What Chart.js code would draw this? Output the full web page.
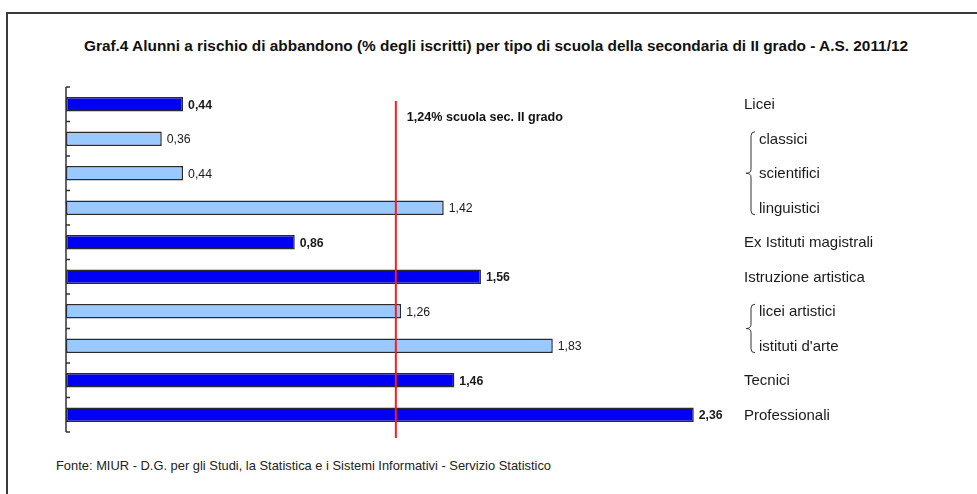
<!DOCTYPE html>
<html>
<head>
<meta charset="utf-8">
<script src="https://cdn.jsdelivr.net/npm/chart.js@4/dist/chart.umd.min.js"></script>
<style>
  html, body { margin: 0; padding: 0; background: #fff; }
  #wrap { position: relative; width: 977px; height: 494px; overflow: hidden; font-family: "Liberation Sans", Arial, sans-serif; }
  #frame { position: absolute; left: 6px; top: 12px; width: 1100px; height: 600px; border: 2px solid #3a3a3a; box-sizing: border-box; }
  #title { position: absolute; left: 0; width: 992px; top: 37px; text-align: center; font-weight: bold; font-size: 15.4px; color: #111; }
  #source { position: absolute; left: 56px; top: 458px; font-size: 12.9px; color: #222; }
  canvas { position: absolute; left: 0; top: 0; }
</style>
</head>
<body>
<div id="wrap">
  <div id="frame"></div>
  <div id="title">Graf.4 Alunni a rischio di abbandono (% degli iscritti) per tipo di scuola della secondaria di II grado - A.S. 2011/12</div>
  <div id="source">Fonte: MIUR - D.G. per gli Studi, la Statistica e i Sistemi Informativi - Servizio Statistico</div>
  <canvas id="c" width="977" height="494"></canvas>
</div>
<script>
const categories = ["Licei", "classici", "scientifici", "linguistici", "Ex Istituti magistrali", "Istruzione artistica", "licei artistici", "istituti d'arte", "Tecnici", "Professionali"];
const levels = [0, 1, 1, 1, 0, 0, 1, 1, 0, 0];
const values = [0.44, 0.36, 0.44, 1.42, 0.86, 1.56, 1.26, 1.83, 1.46, 2.36];
const referenceValue = 1.24;
const referenceLabel = "1,24% scuola sec. II grado";

const darkBlue = "#0000f4";
const lightBlue = "#99c9ff";

const decorPlugin = {
  id: "decor",
  afterDatasetsDraw(chart) {
    const ctx = chart.ctx;
    const x = chart.scales.x, y = chart.scales.y;
    const area = chart.chartArea;
    ctx.save();
    // axis line and ticks
    const step = y.getPixelForValue(1) - y.getPixelForValue(0);
    const top = y.getPixelForValue(0) - step / 2;
    const bottom = y.getPixelForValue(categories.length - 1) + step / 2;
    const x0 = x.getPixelForValue(0);
    ctx.strokeStyle = "#333";
    ctx.lineWidth = 1.5;
    ctx.beginPath();
    ctx.moveTo(x0, top);
    ctx.lineTo(x0, bottom);
    for (let i = 0; i <= categories.length; i++) {
      const ty = top + i * step;
      ctx.moveTo(x0, ty);
      ctx.lineTo(x0 + 4, ty);
    }
    ctx.stroke();

    // value labels
    const meta = chart.getDatasetMeta(0);
    ctx.textBaseline = "middle";
    ctx.textAlign = "left";
    ctx.fillStyle = "#1a1a1a";
    meta.data.forEach((bar, i) => {
      ctx.font = (levels[i] === 0 ? "bold " : "") + "12.3px 'Liberation Sans', Arial, sans-serif";
      ctx.fillText(values[i].toFixed(2).replace(".", ","), bar.x + 5, bar.y + 1);
    });

    // reference line
    const rx = x.getPixelForValue(referenceValue);
    ctx.strokeStyle = "#ff1a1a";
    ctx.lineWidth = 2;
    ctx.beginPath();
    ctx.moveTo(rx, area.top + 14);
    ctx.lineTo(rx, area.bottom + 6);
    ctx.stroke();
    ctx.font = "bold 12.6px 'Liberation Sans', Arial, sans-serif";
    ctx.fillStyle = "#111";
    ctx.fillText(referenceLabel, rx + 11, y.getPixelForValue(0) + 13);

    // right labels
    const mainX = 744, subX = 759;
    ctx.font = "15px 'Liberation Sans', Arial, sans-serif";
    ctx.fillStyle = "#1a1a1a";
    categories.forEach((c, i) => {
      const cy = y.getPixelForValue(i);
      ctx.fillText(c, levels[i] === 0 ? mainX : subX, cy + 1);
    });

    // braces for sub-groups
    ctx.strokeStyle = "#333";
    ctx.lineWidth = 1;
    let i = 0;
    while (i < categories.length) {
      if (levels[i] === 1) {
        let j = i;
        while (j + 1 < categories.length && levels[j + 1] === 1) j++;
        const y1 = y.getPixelForValue(i) - 7;
        const y2 = y.getPixelForValue(j) + 7;
        const mid = (y1 + y2) / 2;
        const bx = 751;
        ctx.beginPath();
        ctx.moveTo(bx + 4, y1);
        ctx.quadraticCurveTo(bx, y1, bx, y1 + 4);
        ctx.lineTo(bx, mid - 4);
        ctx.quadraticCurveTo(bx, mid, bx - 5, mid);
        ctx.quadraticCurveTo(bx, mid, bx, mid + 4);
        ctx.lineTo(bx, y2 - 4);
        ctx.quadraticCurveTo(bx, y2, bx + 4, y2);
        ctx.stroke();
        i = j + 1;
      } else i++;
    }
    ctx.restore();
  }
};

new Chart(document.getElementById("c"), {
  type: "bar",
  data: {
    labels: categories,
    datasets: [{
      data: values,
      backgroundColor: levels.map(l => l === 0 ? darkBlue : lightBlue),
      borderColor: "#2a2a2a",
      borderWidth: 1.5,
      borderSkipped: false,
      categoryPercentage: 1,
      barPercentage: 0.42
    }]
  },
  options: {
    indexAxis: "y",
    responsive: false,
    animation: false,
    devicePixelRatio: 1,
    layout: { padding: { left: 66, top: 87, right: 246, bottom: 62 } },
    plugins: { legend: { display: false }, tooltip: { enabled: false }, title: { display: false } },
    scales: {
      x: { display: false, min: 0, max: 2.5 },
      y: { display: false, offset: true }
    }
  },
  plugins: [decorPlugin]
});
</script>
</body>
</html>
